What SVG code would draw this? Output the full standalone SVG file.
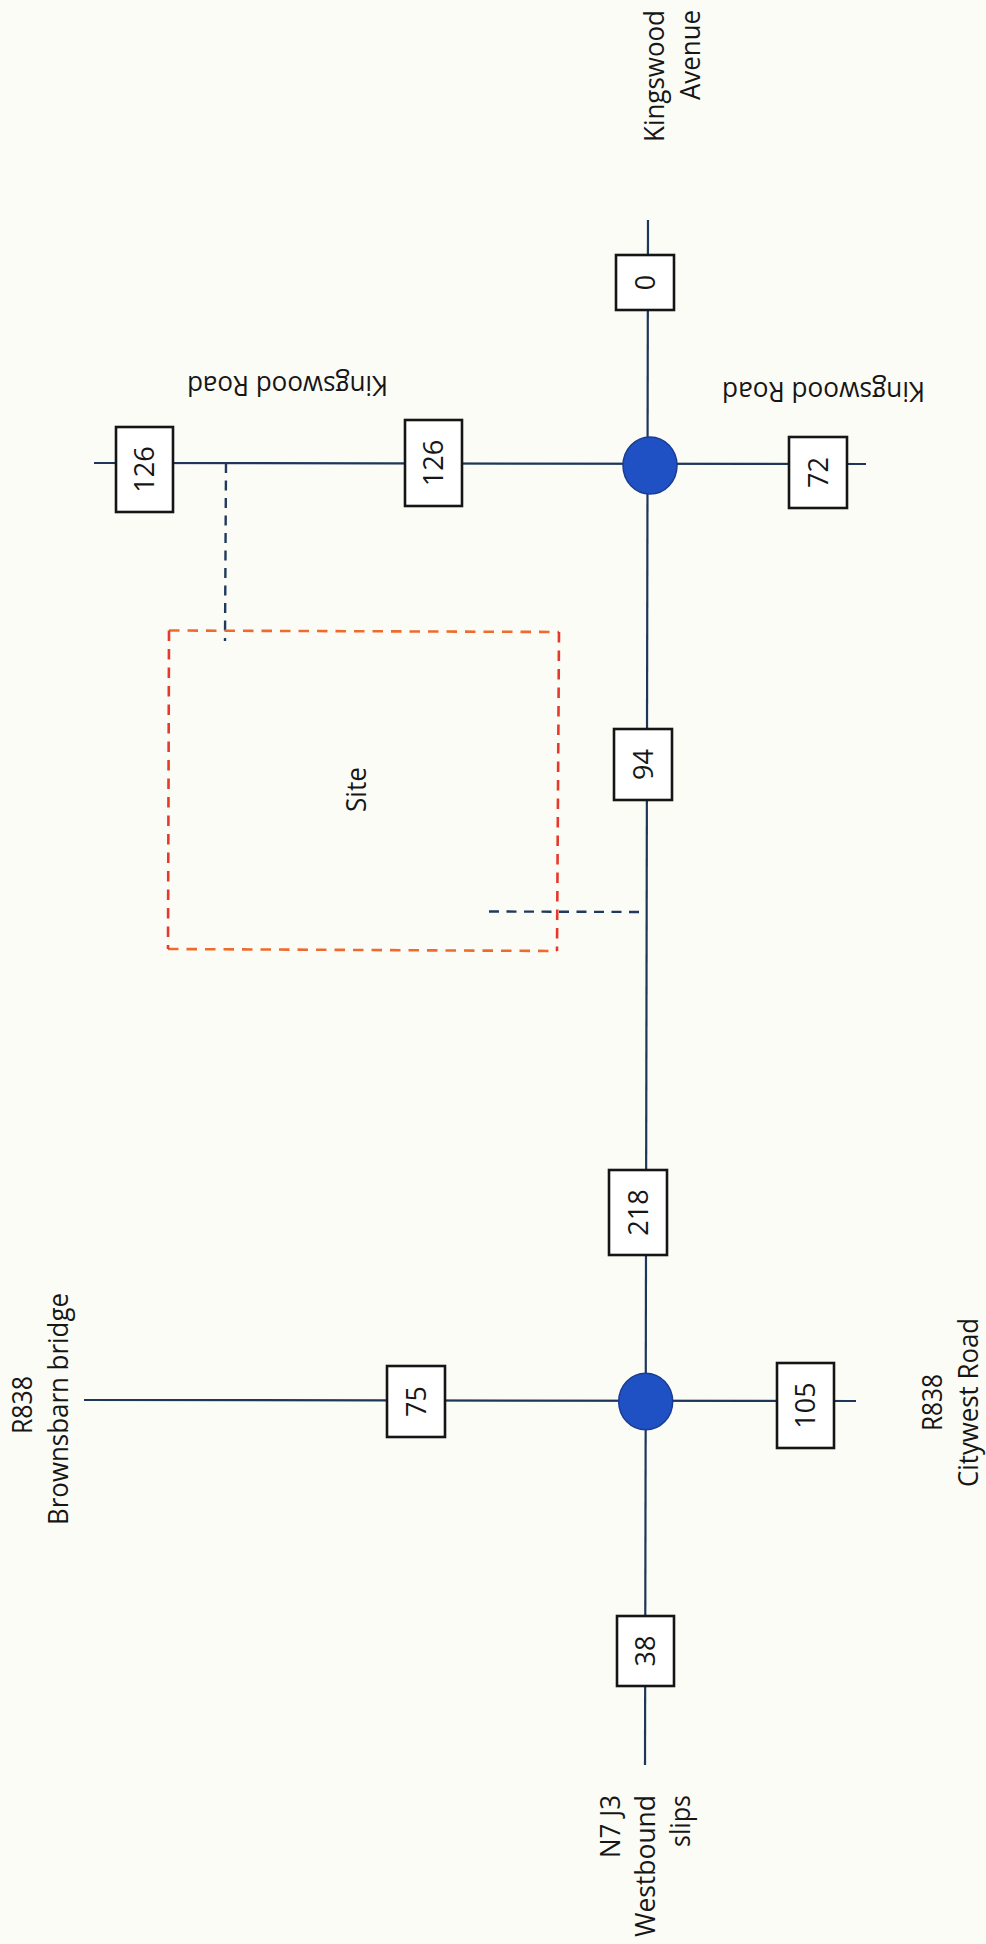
<svg xmlns="http://www.w3.org/2000/svg" width="986" height="1944" viewBox="0 0 986 1944">
<style>
.road{stroke:#1d3659;stroke-width:2.2;fill:none;stroke-linecap:butt}
.link{stroke:#1f3a5c;stroke-width:2.4;fill:none;stroke-dasharray:10 7.5}
.siteh{stroke:#ef6a2c;stroke-width:2.6;fill:none;stroke-dasharray:10.5 8}
.sitev{stroke:#e6392b;stroke-width:2.6;fill:none;stroke-dasharray:10.5 8}
.box{fill:#ffffff;stroke:#151515;stroke-width:2.6}
.junc{fill:#1f50c4;stroke:#1a3d93;stroke-width:1.5}
text{font-family:"Open Sans","Liberation Sans",sans-serif;font-size:27px;fill:#161616}
.num{text-anchor:middle}
</style>
<rect x="0" y="0" width="986" height="1944" fill="#fcfcf7"/>
<g id="connectors">
  <line class="road" x1="648" y1="220" x2="645" y2="1765"/>
  <line class="road" x1="94" y1="463" x2="866" y2="464"/>
  <line class="road" x1="84" y1="1400" x2="856" y2="1401"/>
  <line class="link" x1="226" y1="463" x2="225" y2="641"/>
  <line class="link" x1="489" y1="911.5" x2="646" y2="912"/>
</g>
<g id="site">
  <line class="siteh" x1="169" y1="630.5" x2="559" y2="632"/>
  <line class="siteh" x1="168" y1="949" x2="557" y2="951"/>
  <line class="sitev" x1="169" y1="630.5" x2="168" y2="949"/>
  <line class="sitev" x1="559" y1="632" x2="557" y2="951"/>
  <text transform="translate(366,789.5) rotate(-90)" text-anchor="middle" textLength="45" lengthAdjust="spacingAndGlyphs">Site</text>
</g>
<g id="junction-kingswood">
  <ellipse class="junc" cx="650" cy="465.5" rx="27" ry="28.5"/>
</g>
<g id="junction-r838">
  <ellipse class="junc" cx="645.7" cy="1401.5" rx="27" ry="28.3"/>
</g>
<g id="count-0">
  <rect class="box" x="616" y="255" width="58" height="55"/>
  <text class="num" transform="translate(654.5,282.5) rotate(-90)">0</text>
</g>
<g id="count-72">
  <rect class="box" x="789" y="437" width="58" height="71"/>
  <text class="num" transform="translate(827.5,472.5) rotate(-90)">72</text>
</g>
<g id="count-126-west">
  <rect class="box" x="116" y="427" width="57" height="85"/>
  <text class="num" transform="translate(154,469.5) rotate(-90)">126</text>
</g>
<g id="count-126-east">
  <rect class="box" x="405" y="420" width="57" height="86"/>
  <text class="num" transform="translate(443,463) rotate(-90)">126</text>
</g>
<g id="count-94">
  <rect class="box" x="614" y="729" width="58" height="71"/>
  <text class="num" transform="translate(652.5,764.5) rotate(-90)">94</text>
</g>
<g id="count-218">
  <rect class="box" x="609" y="1170" width="58" height="85"/>
  <text class="num" transform="translate(647.5,1212.5) rotate(-90)">218</text>
</g>
<g id="count-75">
  <rect class="box" x="387" y="1366" width="58" height="71"/>
  <text class="num" transform="translate(425.5,1401.5) rotate(-90)">75</text>
</g>
<g id="count-105">
  <rect class="box" x="777" y="1363" width="57" height="85"/>
  <text class="num" transform="translate(815,1405.5) rotate(-90)">105</text>
</g>
<g id="count-38">
  <rect class="box" x="617" y="1616" width="57" height="70"/>
  <text class="num" transform="translate(655,1651) rotate(-90)">38</text>
</g>
<g id="label-kingswood-avenue">
  <text transform="translate(664,10) rotate(-90)" text-anchor="end" textLength="132" lengthAdjust="spacingAndGlyphs">Kingswood</text>
  <text transform="translate(700,10) rotate(-90)" text-anchor="end" textLength="90" lengthAdjust="spacingAndGlyphs">Avenue</text>
</g>
<g id="label-kingswood-road-east">
  <text transform="translate(823.5,382) rotate(180)" text-anchor="middle" textLength="203" lengthAdjust="spacingAndGlyphs">Kingswood Road</text>
</g>
<g id="label-kingswood-road-west">
  <text transform="translate(287.5,376) rotate(180)" text-anchor="middle" textLength="201" lengthAdjust="spacingAndGlyphs">Kingswood Road</text>
</g>
<g id="label-brownsbarn">
  <text transform="translate(32,1405) rotate(-90)" text-anchor="middle" textLength="58" lengthAdjust="spacingAndGlyphs">R838</text>
  <text transform="translate(68,1409) rotate(-90)" text-anchor="middle" textLength="232" lengthAdjust="spacingAndGlyphs">Brownsbarn bridge</text>
</g>
<g id="label-citywest">
  <text transform="translate(942,1402.5) rotate(-90)" text-anchor="middle" textLength="57" lengthAdjust="spacingAndGlyphs">R838</text>
  <text transform="translate(978,1402.5) rotate(-90)" text-anchor="middle" textLength="169" lengthAdjust="spacingAndGlyphs">Citywest Road</text>
</g>
<g id="label-n7">
  <text transform="translate(620,1795) rotate(-90)" text-anchor="end" textLength="63" lengthAdjust="spacingAndGlyphs">N7 J3</text>
  <text transform="translate(655,1795) rotate(-90)" text-anchor="end" textLength="142" lengthAdjust="spacingAndGlyphs">Westbound</text>
  <text transform="translate(690,1795) rotate(-90)" text-anchor="end" textLength="52" lengthAdjust="spacingAndGlyphs">slips</text>
</g>
</svg>
